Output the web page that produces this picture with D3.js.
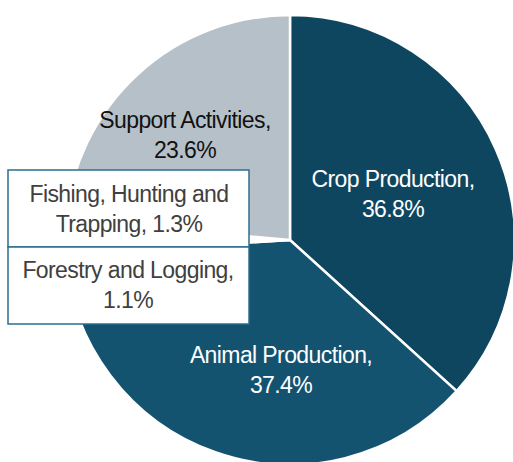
<!DOCTYPE html>
<html>
<head>
<meta charset="utf-8">
<script src="https://cdn.jsdelivr.net/npm/d3@7"></script>
<style>
  html, body { margin: 0; padding: 0; background: #ffffff; }
  svg { display: block; }
  text { font-family: "Liberation Sans", Arial, sans-serif; font-size: 23px; letter-spacing: -0.6px; }
</style>
</head>
<body>
<svg id="chart" width="513" height="462"></svg>
<script>
// Agricultural sector shares, in drawing order (clockwise from 12 o'clock)
const categories = ["Crop Production", "Animal Production", "Forestry and Logging", "Fishing, Hunting and Trapping", "Support Activities"];
const shares = [36.8, 37.4, 1.1, 1.3, 23.6];
const sliceColors = ["#0e4660", "#135370", "#ffffff", "#ffffff", "#b6c0c9"];

// Label lines for each slice
const labelLines = [
  ["Crop Production,", "36.8%"],
  ["Animal Production,", "37.4%"],
  ["Forestry and Logging,", "1.1%"],
  ["Fishing, Hunting and", "Trapping, 1.3%"],
  ["Support Activities,", "23.6%"]
];
const labelColors = ["#ffffff", "#ffffff", "#404040", "#404040", "#111111"];

const svg = d3.select("#chart");
const cx = 290, cy = 240, radius = 225;

const pie = d3.pie().sort(null).value(d => d);
const arcs = pie(shares);
const arc = d3.arc().innerRadius(0).outerRadius(radius);

const g = svg.append("g").attr("transform", `translate(${cx},${cy})`);

g.selectAll("path.slice")
  .data(arcs)
  .join("path")
  .attr("class", "slice")
  .attr("d", arc)
  .attr("fill", (d, i) => sliceColors[i])
  .attr("stroke", "#ffffff")
  .attr("stroke-width", 2.5)
  .attr("stroke-linejoin", "miter");

// Label anchors (first-line baseline); small slices are labelled in callout boxes
const labelPos = [
  { x: 393, y: 187 },
  { x: 281, y: 363 },
  { x: 128, y: 278 },
  { x: 129, y: 202 },
  { x: 185, y: 128 }
];

// Callout boxes for the two small slices
const boxes = [
  { index: 3, x: 8, y: 170, w: 241, h: 77 },
  { index: 2, x: 8, y: 247, w: 241, h: 77 }
];
svg.selectAll("rect.callout")
  .data(boxes)
  .join("rect")
  .attr("class", "callout")
  .attr("x", d => d.x)
  .attr("y", d => d.y)
  .attr("width", d => d.w)
  .attr("height", d => d.h)
  .attr("fill", "#ffffff")
  .attr("stroke", "#2d6e8e")
  .attr("stroke-width", 1.5);

const labels = svg.selectAll("text.label")
  .data(arcs)
  .join("text")
  .attr("class", "label")
  .attr("text-anchor", "middle")
  .attr("fill", (d, i) => labelColors[i]);

labels.each(function (d, i) {
  const t = d3.select(this);
  labelLines[i].forEach((line, k) => {
    t.append("tspan")
      .attr("x", labelPos[i].x)
      .attr("y", labelPos[i].y + k * 30)
      .text(line);
  });
});
</script>
</body>
</html>
